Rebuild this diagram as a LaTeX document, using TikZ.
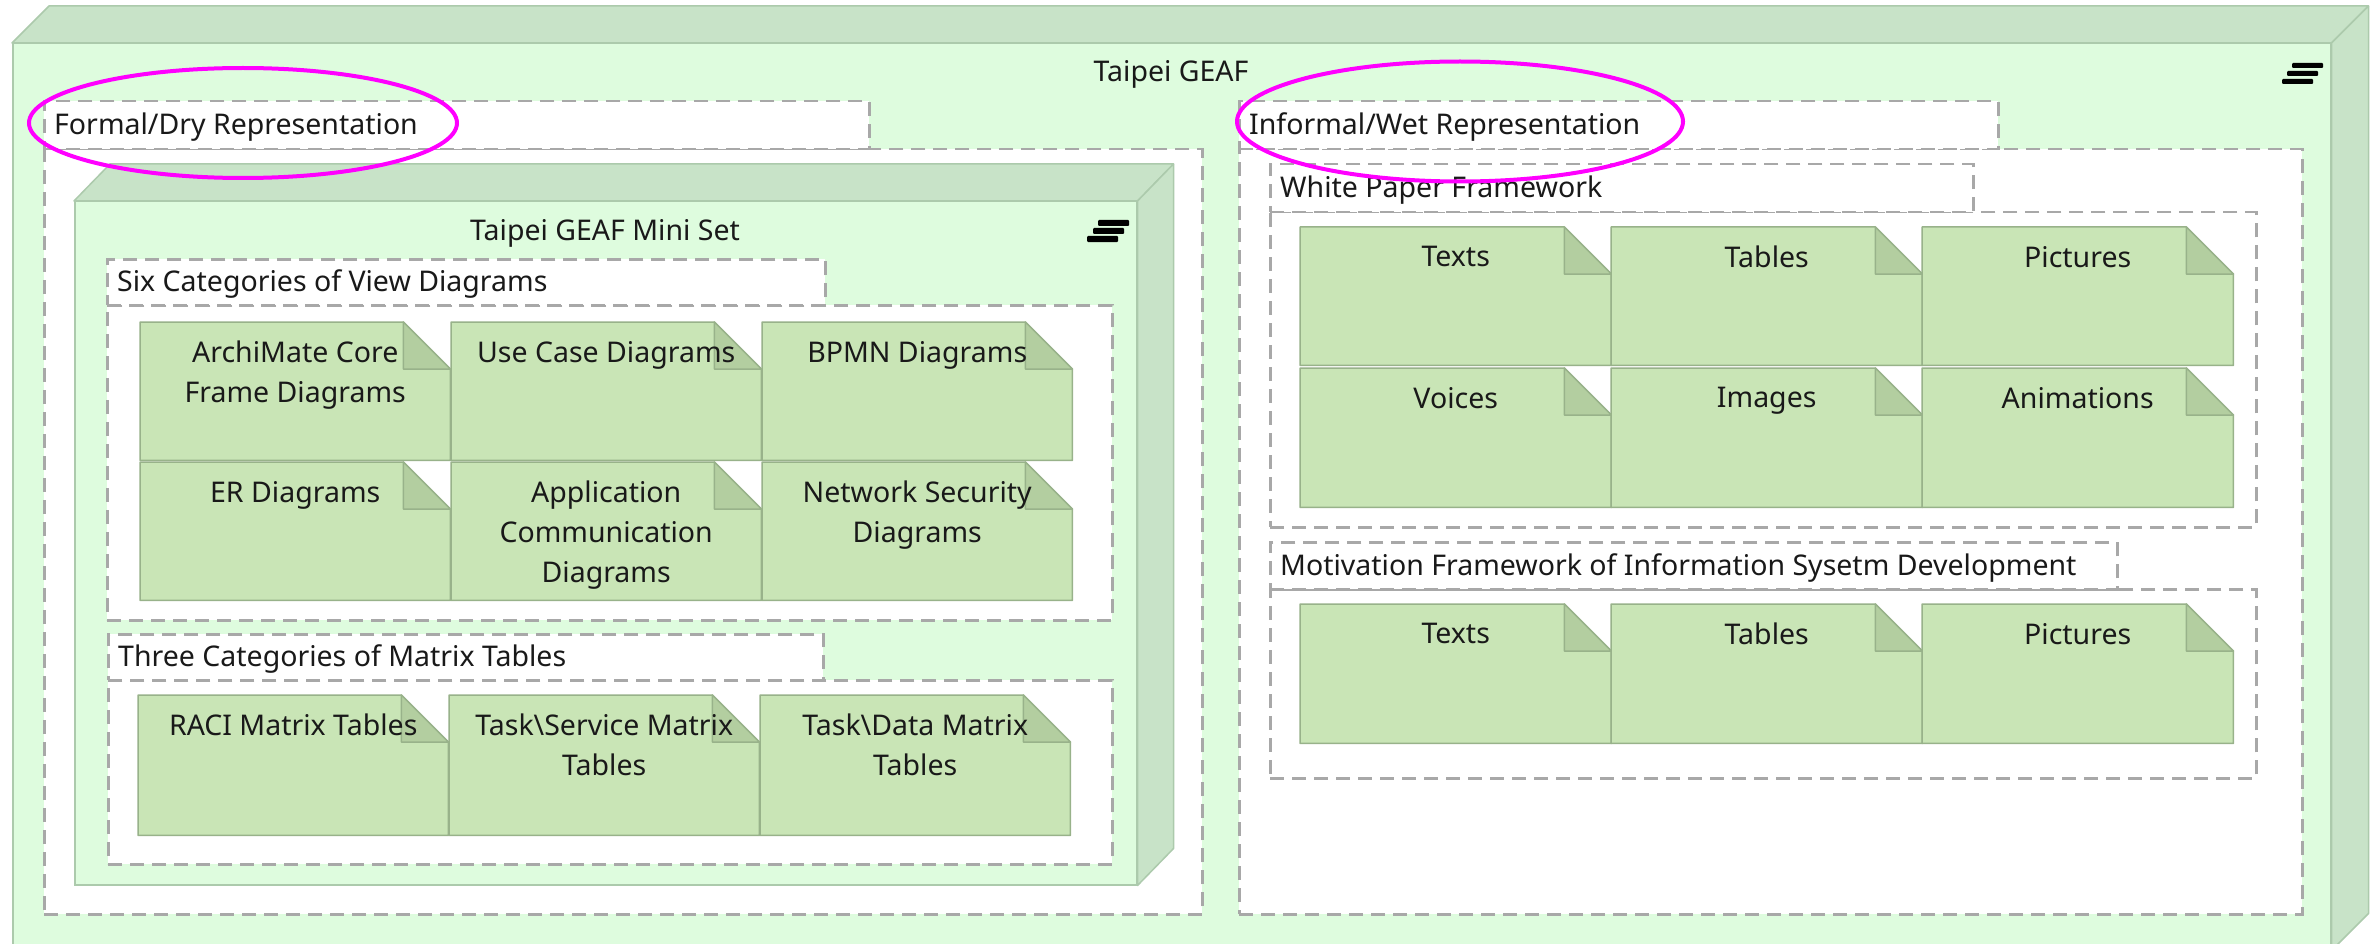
\documentclass[tikz,border=0pt]{standalone}
\usepackage{fontspec}
\setmainfont{Noto Sans}
\usetikzlibrary{shapes.geometric}
\definecolor{nodefront}{RGB}{222,252,222}
\definecolor{nodeside}{RGB}{200,227,200}
\definecolor{nodeline}{RGB}{172,202,172}
\definecolor{notefill}{RGB}{201,229,182}
\definecolor{notefold}{RGB}{179,206,160}
\definecolor{noteline}{RGB}{152,178,138}
\definecolor{dashgray}{RGB}{168,168,168}
\definecolor{txt}{RGB}{25,25,25}
\definecolor{hl}{RGB}{255,0,255}
\tikzset{
 front/.style={fill=nodefront, draw=nodeline, line width=1.5pt, inner sep=0pt},
 sideface/.style={fill=nodeside, draw=nodeline, line width=1.5pt, line join=round},
 grp/.style={fill=white, draw=dashgray, line width=2.5pt, dash pattern=on 14pt off 8pt, inner sep=0pt},
 notebody/.style={fill=notefill, draw=noteline, line width=1.5pt, line join=round},
 notefoldst/.style={fill=notefold, draw=noteline, line width=1.5pt, line join=round},
 lbl/.style={font=\fontsize{28.5}{40}\selectfont, text=txt, inner sep=0pt},
 notetext/.style={lbl, align=center},
 hilite/.style={ellipse, draw=hl, line width=4pt, inner sep=0pt},
 iconbar/.style={fill=black, rounded corners=1pt},
}
\newcommand\notebox[6]{%
 \node[inner sep=0pt, minimum width=#4pt, minimum height=#5pt, anchor=north west] (#1) at (#2,#3) {};
 \path[notebody] (#1.north west) -- ([xshift=-47pt]#1.north east) -- ([yshift=-47pt]#1.north east) -- (#1.south east) -- (#1.south west) -- cycle;
 \path[notefoldst] ([xshift=-47pt]#1.north east) -- ([xshift=-47pt,yshift=-47pt]#1.north east) -- ([yshift=-47pt]#1.north east) -- cycle;
 \node[notetext, anchor=north] (#1-t) at ([yshift=-19pt]#1.north) {#6};
}
\newcommand\grpbox[9]{% name, tab x, tab y, tab w, tab h, body w, body h, label
 \node[grp, anchor=north west, minimum width=#6pt, minimum height=#7pt] (#1-body) at (#2,{#3+#5}) {};
 \node[grp, anchor=north west, minimum width=#4pt, minimum height=#5pt] (#1-tab) at (#2,#3) {};
 \node[lbl, anchor=west] (#1-lbl) at ([xshift=11pt,yshift=-2pt]#1-tab.west) {#8};
}
\begin{document}
\begin{tikzpicture}[x=1pt,y=-1pt]
\useasboundingbox (0,0) rectangle (2377,944);
\clip (0,0) rectangle (2377,944);
\fill[white] (0,0) rectangle (2377,944);
% outer node
\node[front, anchor=north west, minimum width=2318pt, minimum height=906pt] (geaf) at (12,43) {};
\path[sideface] (geaf.north west) -- ([shift={(37pt,37pt)}]geaf.north west) -- ([shift={(37pt,37pt)}]geaf.north east) -- (geaf.north east) -- cycle;
\path[sideface] (geaf.north east) -- ([shift={(37pt,37pt)}]geaf.north east) -- ([shift={(37pt,37pt)}]geaf.south east) -- (geaf.south east) -- cycle;
\node[lbl] (geaftitle) at (1171,74) {Taipei GEAF};
\fill[iconbar] (2292,63) rectangle (2323,68);
\fill[iconbar] (2287,71) rectangle (2318,76);
\fill[iconbar] (2282,79) rectangle (2313,84);
% groups
\grpbox{formal}{43}{100}{825}{48}{1158}{765}{Formal/Dry Representation}{}
\grpbox{informal}{1238}{100}{759}{48}{1063}{765}{Informal/Wet Representation}{}
% mini set node
\node[front, anchor=north west, minimum width=1062pt, minimum height=683pt] (mini) at (74,201) {};
\path[sideface] (mini.north west) -- ([shift={(36pt,37pt)}]mini.north west) -- ([shift={(36pt,37pt)}]mini.north east) -- (mini.north east) -- cycle;
\path[sideface] (mini.north east) -- ([shift={(36pt,37pt)}]mini.north east) -- ([shift={(36pt,37pt)}]mini.south east) -- (mini.south east) -- cycle;
\node[lbl] (minititle) at (605,233) {Taipei GEAF Mini Set};
\fill[iconbar] (1098,220) rectangle (1129,226);
\fill[iconbar] (1093,228) rectangle (1124,234);
\fill[iconbar] (1087,236) rectangle (1118,242);
% six categories
\grpbox{six}{106}{258}{718}{46}{1005}{315}{Six Categories of View Diagrams}{}
\notebox{arch}{140}{322}{310}{138}{ArchiMate Core\\Frame Diagrams}
\notebox{usecase}{451}{322}{310}{138}{Use Case Diagrams}
\notebox{bpmn}{762}{322}{310}{138}{BPMN Diagrams}
\notebox{er}{140}{462}{310}{138}{ER Diagrams}
\notebox{appcom}{451}{462}{310}{138}{Application\\Communication\\Diagrams}
\notebox{netsec}{762}{462}{310}{138}{Network Security\\Diagrams}
% three categories
\grpbox{three}{107}{633}{715}{46}{1004}{184}{Three Categories of Matrix Tables}{}
\notebox{raci}{138}{695}{310}{140}{RACI Matrix Tables}
\notebox{tasksvc}{449}{695}{310}{140}{Task\textbackslash Service Matrix\\Tables}
\notebox{taskdata}{760}{695}{310}{140}{Task\textbackslash Data Matrix\\Tables}
% white paper
\grpbox{wp}{1269}{163}{703}{48}{986}{315}{White Paper Framework}{}
\notebox{wptexts}{1300}{227}{311}{138}{Texts}
\notebox{wptables}{1611}{227}{311}{138}{Tables}
\notebox{wppics}{1922}{227}{311}{138}{Pictures}
\notebox{wpvoices}{1300}{368}{311}{139}{Voices}
\notebox{wpimages}{1611}{368}{311}{139}{Images}
\notebox{wpanim}{1922}{368}{311}{139}{Animations}
% motivation
\grpbox{mot}{1269}{541}{847}{47}{986}{189}{Motivation Framework of Information Sysetm Development}{}
\notebox{mtexts}{1300}{604}{311}{139}{Texts}
\notebox{mtables}{1611}{604}{311}{139}{Tables}
\notebox{mpics}{1922}{604}{311}{139}{Pictures}
% highlights
\node[hilite, minimum width=428pt, minimum height=110pt] (hl1) at (243,123) {};
\node[hilite, minimum width=446pt, minimum height=120pt] (hl2) at (1460,121.5) {};
\end{tikzpicture}
\end{document}
